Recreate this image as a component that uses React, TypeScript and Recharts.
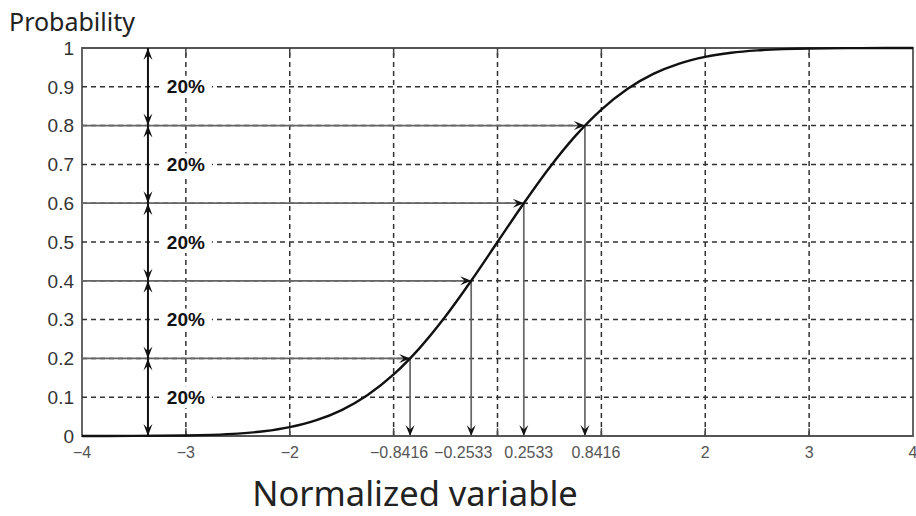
import React from 'react';
import { LineChart, Line, XAxis, YAxis, ReferenceLine, ReferenceArea, ReferenceDot } from 'recharts';

// Curve (cumulative probability vs normalized variable)
const zValues = [-4, -3.5, -3, -2.75, -2.5, -2.25, -2, -1.75, -1.5, -1.25, -1, -0.75, -0.5, -0.25, 0, 0.25, 0.5, 0.75, 1, 1.25, 1.5, 1.75, 2, 2.25, 2.5, 2.75, 3, 3.5, 4];
const probValues = [0.0, 0.0002, 0.0013, 0.003, 0.0062, 0.0122, 0.0228, 0.0401, 0.0668, 0.1056, 0.1587, 0.2266, 0.3085, 0.4013, 0.5, 0.5987, 0.6915, 0.7734, 0.8413, 0.8944, 0.9332, 0.9599, 0.9772, 0.9878, 0.9938, 0.997, 0.9987, 0.9998, 1.0];

const xTickValues = [-4, -3, -2, -0.8416, -0.2533, 0.2533, 0.8416, 2, 3, 4];
const xTickLabels = ['\u22124', '\u22123', '\u22122', '\u22120.8416', '\u22120.2533', '0.2533', '0.8416', '2', '3', '4'];
const xTickShift = [0, 0, 0, -11, -8, 5, 11, 0, 0, 0];
const yTickValues = [0, 0.1, 0.2, 0.3, 0.4, 0.5, 0.6, 0.7, 0.8, 0.9, 1];
const yTickLabels = ['0', '0.1', '0.2', '0.3', '0.4', '0.5', '0.6', '0.7', '0.8', '0.9', '1'];

const gridX = [-3, -2, -1, 0, 1, 2, 3];
const gridY = [0.1, 0.2, 0.3, 0.4, 0.5, 0.6, 0.7, 0.8, 0.9];

const quantileProbs = [0.2, 0.4, 0.6, 0.8];
const quantileZ = [-0.8416, -0.2533, 0.2533, 0.8416];

const bandEdges = [0, 0.2, 0.4, 0.6, 0.8, 1];
const bandLabels = ['20%', '20%', '20%', '20%', '20%'];
const bandLabelY = [0.1, 0.3, 0.5, 0.7, 0.9];
const bandArrowX = -3.365;
const bandLabelX = -3;

const data = zValues.map((x, i) => ({ x, p: probValues[i] }));

function head(x1: number, y1: number, x2: number, y2: number, L: number, W: number) {
  const dx = x2 - x1;
  const dy = y2 - y1;
  const len = Math.sqrt(dx * dx + dy * dy) || 1;
  const ux = dx / len;
  const uy = dy / len;
  const nx = -uy;
  const ny = ux;
  const pts = [
    [x2, y2],
    [x2 - ux * L + nx * W, y2 - uy * L + ny * W],
    [x2 - ux * L * 0.6, y2 - uy * L * 0.6],
    [x2 - ux * L - nx * W, y2 - uy * L - ny * W],
  ];
  return pts.map((p) => p.join(',')).join(' ');
}

const arrowShape = (opts: { start: boolean; end: boolean; width: number; color: string; headColor: string; L: number; W: number }) =>
  (p: any) => {
    const { x1, y1, x2, y2 } = p;
    return (
      <g>
        <line x1={x1} y1={y1} x2={x2} y2={y2} stroke={opts.color} strokeWidth={opts.width} />
        {opts.end && <polygon points={head(x1, y1, x2, y2, opts.L, opts.W)} fill={opts.headColor} />}
        {opts.start && <polygon points={head(x2, y2, x1, y1, opts.L, opts.W)} fill={opts.headColor} />}
      </g>
    );
  };

const hArrow = arrowShape({ start: false, end: true, width: 1.7, color: '#666', headColor: '#111', L: 11, W: 4.5 });
const bandArrow = arrowShape({ start: true, end: true, width: 2, color: '#111', headColor: '#111', L: 12, W: 4.5 });

const labelShape = (text: string) => (p: any) => (
  <g>
    <rect x={p.cx - 26} y={p.cy - 11} width={52} height={22} fill="#fff" />
    <text x={p.cx} y={p.cy} textAnchor="middle" dominantBaseline="central" fontFamily="'Liberation Sans', Arial, sans-serif" fontWeight="bold" fontSize={19} fill="#111">
      {text}
    </text>
  </g>
);

const tickFont = "'Liberation Sans', Arial, sans-serif";

const XTick = (props: any) => {
  const { x, y, payload } = props;
  const i = xTickValues.indexOf(payload.value);
  const label = i >= 0 ? xTickLabels[i] : String(payload.value);
  const shift = i >= 0 ? xTickShift[i] : 0;
  return (
    <text x={x + shift} y={y} dy="0.9em" textAnchor="middle" fontFamily={tickFont} fontSize={16} fill="#555">
      {label}
    </text>
  );
};

export default function App() {
  return (
    <div style={{ position: 'absolute', left: 0, top: 0, width: 916, height: 516, background: '#fff', overflow: 'hidden' }}>
      <div style={{ position: 'absolute', left: 9, top: 4, fontFamily: "'Noto Sans', 'Open Sans', sans-serif", fontSize: 25, color: '#222', lineHeight: '34px' }}>
        Probability
      </div>
      <LineChart width={916} height={516} data={data} margin={{ top: 48, right: 3, left: 22, bottom: 50 }}>
        <XAxis
          dataKey="x"
          type="number"
          domain={[-4, 4]}
          ticks={xTickValues}
          axisLine={false}
          tickLine={false}
          height={30}
          interval={0}
          tick={<XTick />}
        />
        <YAxis
          type="number"
          domain={[0, 1]}
          ticks={yTickValues}
          tickFormatter={(v: number) => yTickLabels[yTickValues.indexOf(v)] ?? String(v)}
          axisLine={false}
          tickLine={false}
          width={60}
          interval={0}
          tick={{ fontFamily: tickFont, fontSize: 19, fill: '#333' }}
        />
        {gridY.map((y) => (
          <ReferenceLine key={'gy' + y} y={y} stroke="#333" strokeWidth={1.5} strokeDasharray="5 4" />
        ))}
        {gridX.map((x) => (
          <ReferenceLine key={'gx' + x} x={x} stroke="#333" strokeWidth={1.5} strokeDasharray="5 4" />
        ))}
        {gridX.map((x) => (
          <ReferenceLine key={'tb' + x} segment={[{ x, y: 0 }, { x, y: 0.02 }]} stroke="#444" strokeWidth={1.5} />
        ))}
        {gridX.map((x) => (
          <ReferenceLine key={'tt' + x} segment={[{ x, y: 1 }, { x, y: 0.98 }]} stroke="#444" strokeWidth={1.5} />
        ))}
        <ReferenceArea x1={-4} x2={4} y1={0} y2={1} fill="none" fillOpacity={0} stroke="#555" strokeWidth={1.8} />
        {quantileProbs.map((pr, i) => (
          <ReferenceLine key={'h' + i} segment={[{ x: -4, y: pr }, { x: quantileZ[i], y: pr }]} shape={hArrow} />
        ))}
        {quantileProbs.map((pr, i) => (
          <ReferenceLine key={'v' + i} segment={[{ x: quantileZ[i], y: pr }, { x: quantileZ[i], y: 0 }]} shape={hArrow} />
        ))}
        {bandLabels.map((_, i) => (
          <ReferenceLine key={'b' + i} segment={[{ x: bandArrowX, y: bandEdges[i] }, { x: bandArrowX, y: bandEdges[i + 1] }]} shape={bandArrow} />
        ))}
        <Line dataKey="p" type="monotone" stroke="#111" strokeWidth={2.4} dot={false} activeDot={false} isAnimationActive={false} />
        {bandLabels.map((t, i) => (
          <ReferenceDot key={'l' + i} x={bandLabelX} y={bandLabelY[i]} r={1} shape={labelShape(t)} />
        ))}
      </LineChart>
      <div style={{ position: 'absolute', left: 0, width: 830, top: 475, textAlign: 'center', fontFamily: "'Noto Sans', 'Open Sans', sans-serif", fontSize: 34.5, color: '#222', lineHeight: '36px' }}>
        Normalized variable
      </div>
    </div>
  );
}
